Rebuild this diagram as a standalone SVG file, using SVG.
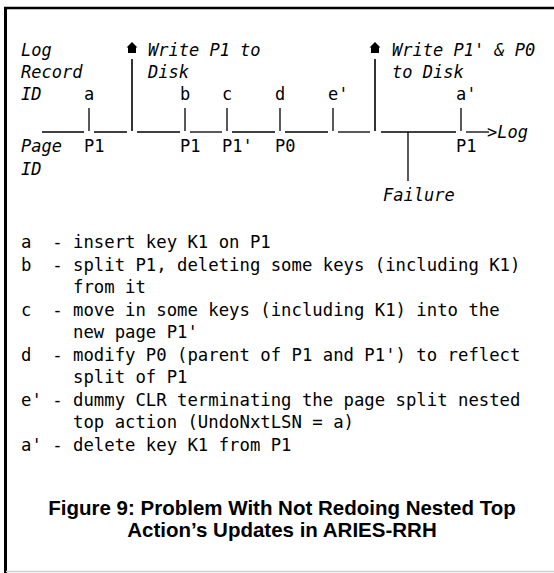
<svg xmlns="http://www.w3.org/2000/svg" width="554" height="573" viewBox="0 0 554 573">
<style>
.it{font-family:"DejaVu Sans Mono","Liberation Mono",monospace;font-style:italic;font-size:17px;fill:#000}
.mono{font-family:"DejaVu Sans Mono","Liberation Mono",monospace;font-size:17px;fill:#000}
.body{font-family:"DejaVu Sans Mono","Liberation Mono",monospace;font-size:17.3px;fill:#000;white-space:pre}
.cap{font-family:"Liberation Sans",Arial,sans-serif;font-weight:bold;font-size:20.5px;fill:#000;text-anchor:middle}
.ln{stroke:#000;stroke-width:1.3;fill:none}
.big{stroke:#000;stroke-width:1.6;fill:none}
</style>
<defs>
<polygon id="house" points="0,0 5.5,5.5 4,5.5 4,11 -4,11 -4,5.5 -5.5,5.5" fill="#000"/>
</defs>
<rect width="554" height="573" fill="#fff"/>
<g id="frame">
<line x1="4" y1="8" x2="554" y2="8" stroke="#000" stroke-width="2.5"/>
<line x1="5.5" y1="7" x2="5.5" y2="573" stroke="#000" stroke-width="3"/>
<line x1="6" y1="571.5" x2="554" y2="571.5" stroke="#d0d0d0" stroke-width="1.5"/>
</g>
<g id="axis-labels">
<text class="it" x="21" y="56">Log</text>
<text class="it" x="21" y="78">Record</text>
<text class="it" x="21" y="100">ID</text>
<text class="it" x="21" y="152">Page</text>
<text class="it" x="21" y="175">ID</text>
</g>
<g id="connectors">
<line class="ln" x1="42" y1="132" x2="84" y2="132"/>
<line class="ln" x1="94" y1="132" x2="127" y2="132"/>
<line class="ln" x1="137" y1="132" x2="180" y2="132"/>
<line class="ln" x1="190" y1="132" x2="222" y2="132"/>
<line class="ln" x1="232" y1="132" x2="275" y2="132"/>
<line class="ln" x1="285" y1="132" x2="328" y2="132"/>
<line class="ln" x1="338" y1="132" x2="370" y2="132"/>
<line class="ln" x1="381" y1="132" x2="456" y2="132"/>
<line class="ln" x1="466" y1="132" x2="489" y2="132"/>
<line class="ln" x1="89" y1="108" x2="89" y2="131"/>
<line class="ln" x1="185" y1="108" x2="185" y2="131"/>
<line class="ln" x1="227" y1="108" x2="227" y2="131"/>
<line class="ln" x1="280" y1="108" x2="280" y2="131"/>
<line class="ln" x1="333" y1="108" x2="333" y2="131"/>
<line class="ln" x1="461" y1="108" x2="461" y2="131"/>
<line class="ln" x1="408" y1="132" x2="408" y2="181"/>
</g>
<g id="write1">
<use href="#house" x="132" y="42"/>
<line class="big" x1="132" y1="59" x2="132" y2="131"/>
<text class="it" x="148" y="56">Write P1 to</text>
<text class="it" x="148" y="78">Disk</text>
</g>
<g id="write2">
<use href="#house" x="375" y="42"/>
<line class="big" x1="375" y1="59" x2="375" y2="131"/>
<text class="it" x="392" y="56">Write P1' &amp; P0</text>
<text class="it" x="392" y="78">to Disk</text>
</g>
<g id="rec-a"><text class="mono" x="84" y="100">a</text><text class="mono" x="84" y="152">P1</text></g>
<g id="rec-b"><text class="mono" x="180" y="100">b</text><text class="mono" x="180" y="152">P1</text></g>
<g id="rec-c"><text class="mono" x="222" y="100">c</text><text class="mono" x="222" y="152">P1'</text></g>
<g id="rec-d"><text class="mono" x="275" y="100">d</text><text class="mono" x="275" y="152">P0</text></g>
<g id="rec-e"><text class="mono" x="328" y="100">e'</text></g>
<g id="rec-a2"><text class="mono" x="456" y="100">a'</text><text class="mono" x="456" y="152">P1</text></g>
<g id="log-end"><text class="it" x="487" y="138">&gt;Log</text></g>
<g id="failure"><text class="it" x="383" y="201">Failure</text></g>
<g id="legend">
<text class="body" x="21" y="248">a  - insert key K1 on P1</text>
<text class="body" x="21" y="270.5">b  - split P1, deleting some keys (including K1)</text>
<text class="body" x="21" y="293">     from it</text>
<text class="body" x="21" y="315.5">c  - move in some keys (including K1) into the</text>
<text class="body" x="21" y="338">     new page P1'</text>
<text class="body" x="21" y="360.5">d  - modify P0 (parent of P1 and P1') to reflect</text>
<text class="body" x="21" y="383">     split of P1</text>
<text class="body" x="21" y="405.5">e' - dummy CLR terminating the page split nested</text>
<text class="body" x="21" y="428">     top action (UndoNxtLSN = a)</text>
<text class="body" x="21" y="450.5">a' - delete key K1 from P1</text>
</g>
<g id="caption">
<text class="cap" x="282" y="515">Figure 9: Problem With Not Redoing Nested Top</text>
<text class="cap" x="282" y="537">Action’s Updates in ARIES-RRH</text>
</g>
</svg>
